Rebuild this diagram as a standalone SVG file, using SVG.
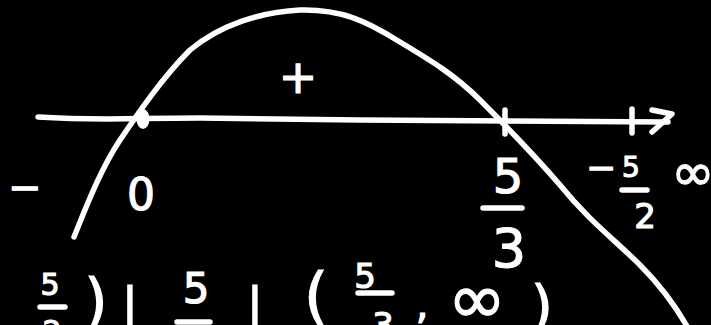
<svg xmlns="http://www.w3.org/2000/svg" width="711" height="325" viewBox="0 0 711 325">
<style>
.ln{fill:none;stroke:#fff;stroke-width:5.5;stroke-linecap:round;stroke-linejoin:round}
.t{fill:#fff;stroke:#fff;stroke-width:1.2;font-family:"DejaVu Sans",sans-serif;text-anchor:middle}
</style>
<rect width="711" height="325" fill="#000"/>
<g id="axis">
<path class="ln" d="M38,117 C100,121 130,118 200,118 L360,120 C450,121 550,122 668,122"/>
<path class="ln" d="M652,110 L672,114 L652,132"/>
<path class="ln" d="M632,109 L632,133"/>
<path class="ln" d="M505,110 L505,134"/>
<ellipse cx="143" cy="119" rx="6.5" ry="10" fill="#fff"/>
</g>
<g id="curve">
<path class="ln" d="M74,237 C85,210 100,170 120,140 C135,118 160,80 190,50 C220,25 260,12 300,10 C340,9 365,20 400,42 C430,60 455,75 480,100 C505,125 530,150 560,185 C590,222 615,240 640,265 C660,285 675,305 688,328"/>
</g>
<g id="labels">
<text class="t" x="298" y="93" font-size="46">+</text>
<text class="t" x="25" y="201" font-size="40">−</text>
<text class="t" x="141" y="210" font-size="44">0</text>
<text class="t" x="508" y="193" font-size="48">5</text>
<path class="ln" d="M483,208 L522,208"/>
<text class="t" x="509" y="267" font-size="54">3</text>
<text class="t" x="601" y="180" font-size="36">−</text>
<text class="t" x="631" y="177" font-size="28">5</text>
<path class="ln" d="M622,190 L647,190"/>
<text class="t" x="645" y="228" font-size="34">2</text>
<text class="t" x="693" y="190" font-size="52">∞</text>
</g>
<g id="intervals">
<text class="t" x="50" y="295" font-size="30">5</text>
<path class="ln" d="M40,307 L65,307"/>
<text class="t" x="52" y="342" font-size="30">2</text>
<text class="t" x="96" y="322" font-size="60">)</text>
<text class="t" x="130" y="323" font-size="50">|</text>
<text class="t" x="196" y="303" font-size="42">5</text>
<path class="ln" d="M177,322 L210,322"/>
<text class="t" x="255" y="323" font-size="50">|</text>
<text class="t" x="316" y="317" font-size="62">(</text>
<text class="t" x="365" y="288" font-size="34">5</text>
<path class="ln" d="M358,293 L392,293"/>
<text class="t" x="383" y="337" font-size="34">3</text>
<text class="t" x="422" y="318" font-size="40">,</text>
<text class="t" x="477" y="323" font-size="70">∞</text>
<text class="t" x="542" y="325" font-size="56">)</text>
</g>
</svg>
